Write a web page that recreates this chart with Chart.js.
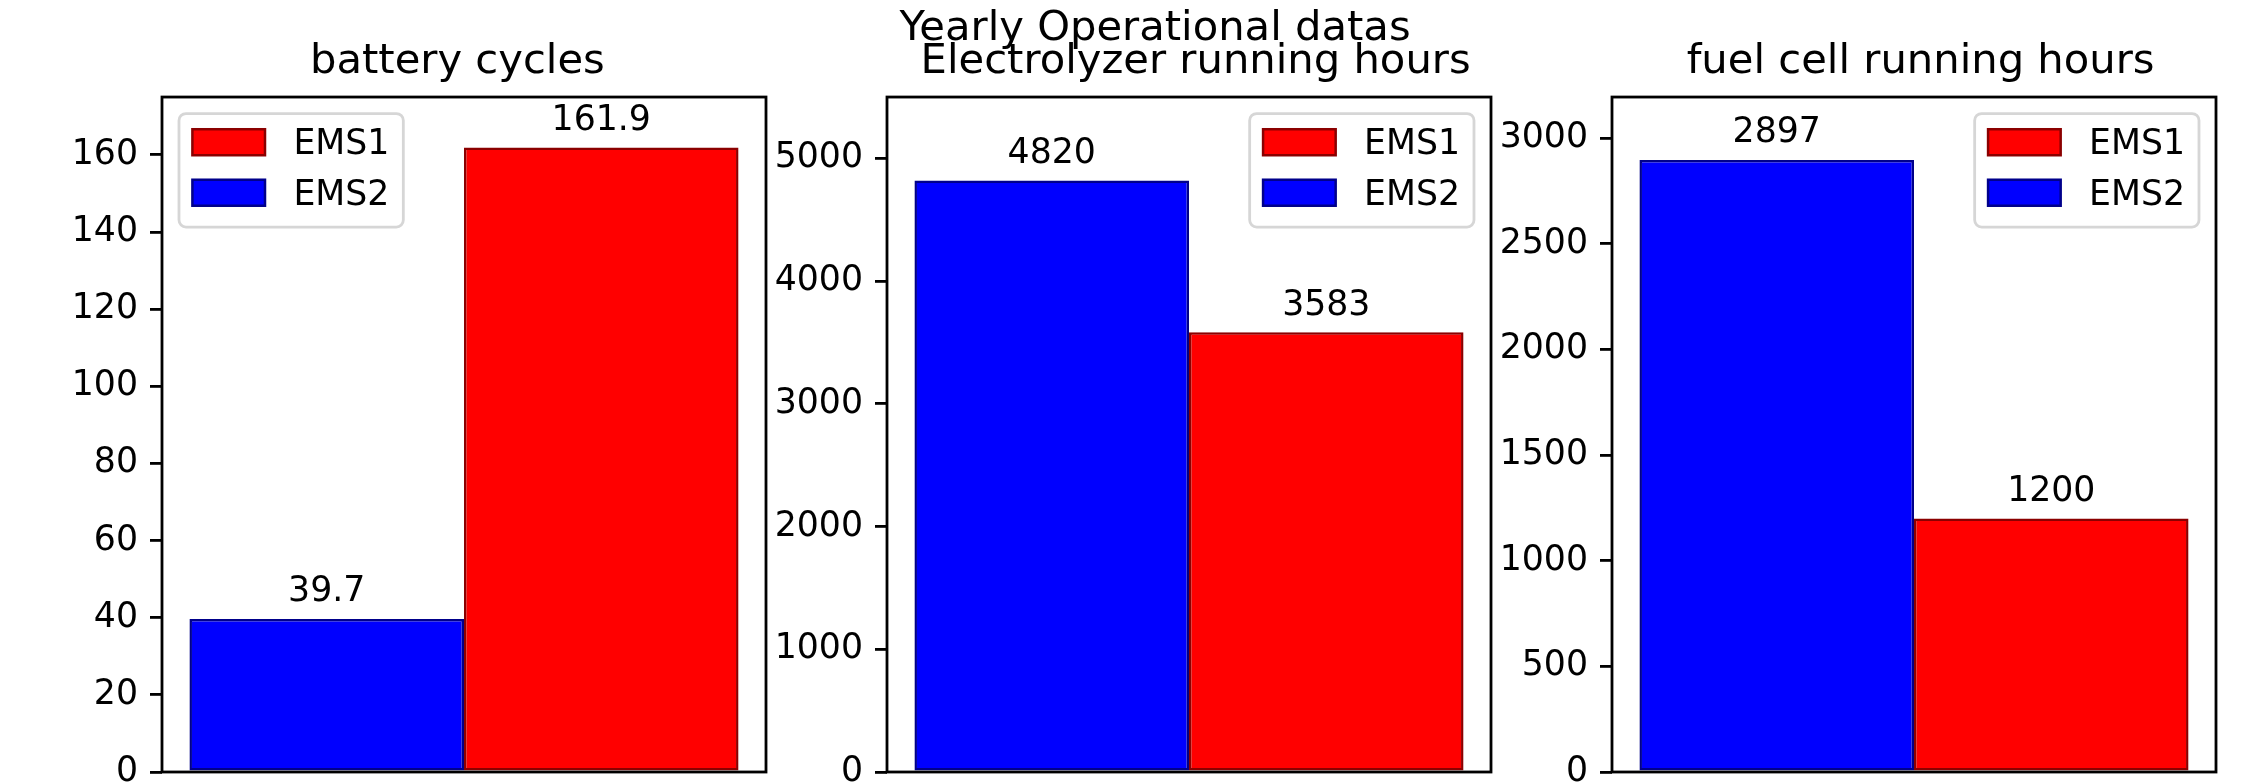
<!DOCTYPE html>
<html>
<head>
<meta charset="utf-8">
<title>Yearly Operational datas</title>
<script src="https://cdn.jsdelivr.net/npm/chart.js@4.4.0/dist/chart.umd.min.js"></script>
<style>
    html, body { margin: 0; padding: 0; background: #fff; }
    #page { position: relative; width: 2254px; height: 783px; overflow: hidden; background: #fff; }
    #page canvas { position: absolute; top: 0; }
    #suptitle {
        position: absolute; left: 855px; top: 1px; width: 600px;
        text-align: center; font-family: "DejaVu Sans", sans-serif;
        font-size: 41.7px; line-height: 50px; color: #000; white-space: pre;
        z-index: 5;
    }
</style>
</head>
<body>
<div id="page">
    <canvas id="panel0" width="758" height="783"></canvas>
    <canvas id="panel1" width="758" height="783"></canvas>
    <canvas id="panel2" width="758" height="783"></canvas>
    <div id="suptitle">Yearly Operational datas</div>
</div>
<script>
// Data
const panelTitles = ['battery cycles ', ' Electrolyzer running hours', ' fuel cell running hours'];
const seriesNames = ['EMS1', 'EMS2'];
const ems1Values = [161.9, 3583, 1200];
const ems2Values = [39.7, 4820, 2897];
const yMax = [175, 5500, 3195];
const batteryTicks = [0, 20, 40, 60, 80, 100, 120, 140, 160];
const electrolyzerTicks = [0, 1000, 2000, 3000, 4000, 5000];
const fuelCellTicks = [0, 500, 1000, 1500, 2000, 2500, 3000];
const yTicks = [batteryTicks, electrolyzerTicks, fuelCellTicks];
const legendSide = ['left', 'right', 'right'];

// Layout
const FONT = '"DejaVu Sans", sans-serif';
const axesLeft = [162, 887, 1612];
const YAXIS_W = 150;
const LINE = 2.8;

const colors = {
    EMS1: { fill: '#ff0000', edge: '#8b0000' },
    EMS2: { fill: '#0000ff', edge: '#00008b' }
};

// frame, bar value labels and the boxed legend
const extras = {
    id: 'extras',
    afterDatasetsDraw(chart) {
        const ctx = chart.ctx;
        const area = chart.chartArea;

        ctx.save();
        ctx.font = '34.7px ' + FONT;
        ctx.fillStyle = '#000';
        ctx.textAlign = 'center';
        ctx.textBaseline = 'alphabetic';
        chart.getSortedVisibleDatasetMetas().forEach(meta => {
            meta.data.forEach((bar, j) => {
                const v = chart.data.datasets[meta.index].data[j];
                ctx.fillText(String(v), bar.x, bar.y - 17.5);
            });
        });

        ctx.strokeStyle = '#000';
        ctx.lineWidth = LINE;
        ctx.strokeRect(area.left, area.top, area.right - area.left, area.bottom - area.top);
        ctx.restore();
    },
    afterDraw(chart, args, opts) {
        const ctx = chart.ctx;
        const area = chart.chartArea;
        const items = seriesNames.map(name => ({ text: name, fill: colors[name].fill, edge: colors[name].edge }));

        ctx.save();
        ctx.font = '34.7px ' + FONT;
        const textW = Math.max(...items.map(it => ctx.measureText(it.text).width));
        const boxW = 13.4 + 72.6 + 28.4 + textW + 14;
        const boxH = 113.5;
        const x = opts.side === 'left' ? area.left + 17 : area.right - 17 - boxW;
        const y = area.top + 16.5;

        ctx.beginPath();
        ctx.roundRect(x, y, boxW, boxH, 7);
        ctx.fillStyle = 'rgba(255,255,255,0.8)';
        ctx.fill();
        ctx.strokeStyle = '#d6d6d6';
        ctx.lineWidth = LINE;
        ctx.stroke();

        items.forEach((it, k) => {
            const py = y + 15.7 + k * 50.5;
            ctx.fillStyle = it.fill;
            ctx.fillRect(x + 13.4, py, 72.6, 26);
            ctx.strokeStyle = it.edge;
            ctx.lineWidth = 2.5;
            ctx.strokeRect(x + 13.4, py, 72.6, 26);
            ctx.fillStyle = '#000';
            ctx.textAlign = 'left';
            ctx.textBaseline = 'alphabetic';
            ctx.fillText(it.text, x + 13.4 + 72.6 + 28.4, py + 13 + 12);
        });
        ctx.restore();
    }
};

for (let i = 0; i < 3; i++) {
    const canvas = document.getElementById('panel' + i);
    canvas.style.left = (axesLeft[i] - YAXIS_W) + 'px';

    new Chart(canvas, {
        type: 'bar',
        data: {
            labels: [''],
            datasets: [
                {
                    label: seriesNames[1],
                    data: [ems2Values[i]],
                    backgroundColor: colors.EMS2.fill,
                    borderColor: colors.EMS2.edge,
                    borderWidth: 2.5,
                    borderSkipped: false,
                    categoryPercentage: 1 / 1.1,
                    barPercentage: 1
                },
                {
                    label: seriesNames[0],
                    data: [ems1Values[i]],
                    backgroundColor: colors.EMS1.fill,
                    borderColor: colors.EMS1.edge,
                    borderWidth: 2.5,
                    borderSkipped: false,
                    categoryPercentage: 1 / 1.1,
                    barPercentage: 1
                }
            ]
        },
        options: {
            responsive: false,
            animation: false,
            devicePixelRatio: 1,
            layout: { padding: { left: 0, right: 4, top: 0, bottom: 11 }, autoPadding: false },
            scales: {
                x: { display: false },
                y: {
                    min: 0,
                    max: yMax[i],
                    ticks: {
                        color: '#000', padding: 12, autoSkip: false,
                        font: { family: FONT, size: 34.7 },
                        callback: v => String(v)
                    },
                    grid: { drawOnChartArea: false, color: '#000', lineWidth: LINE, tickLength: 12 },
                    border: { display: false },
                    afterBuildTicks(s) { s.ticks = yTicks[i].map(v => ({ value: v })); },
                    afterFit(s) { s.width = YAXIS_W; s.paddingTop = 0; s.paddingBottom = 0; }
                }
            },
            plugins: {
                legend: { display: false },
                tooltip: { enabled: false },
                title: {
                    display: true,
                    text: panelTitles[i],
                    fullSize: false,
                    color: '#000',
                    font: { family: FONT, size: 41.7, weight: 'normal', lineHeight: 1.2 },
                    padding: { top: 37.6, bottom: 9.4 }
                },
                extras: { side: legendSide[i] }
            }
        },
        plugins: [extras]
    });
}
</script>
</body>
</html>
